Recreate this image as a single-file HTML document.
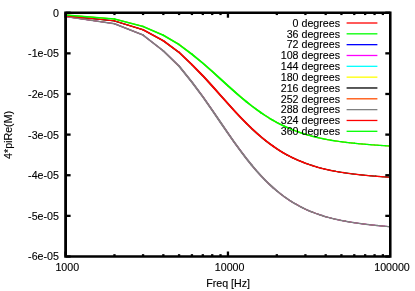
<!DOCTYPE html>
<html><head><meta charset="utf-8"><title>plot</title>
<style>
html,body{margin:0;padding:0;background:#fff;overflow:hidden;}
svg{display:block;}
text{font-family:"Liberation Sans",sans-serif;font-size:10.67px;fill:#000;stroke:#000;stroke-width:0.12px;}
</style></head><body>
<svg style="will-change:transform" width="415" height="291" viewBox="0 0 415 291">
<rect x="0" y="0" width="415" height="291" fill="#fff"/>
<g fill="none" stroke-linejoin="round" stroke-linecap="round">
<path d="M65.60,15.00 L114.47,19.00" stroke="#ff0000" stroke-width="0.95"/><path d="M114.47,19.00 L143.06,26.40" stroke="#ff0000" stroke-width="1.00"/><path d="M143.06,26.40 L163.34,35.30" stroke="#ff0000" stroke-width="1.10"/><path d="M163.34,35.30 L179.08,44.60" stroke="#ff0000" stroke-width="1.15"/><path d="M179.08,44.60 L191.93,54.20 L202.80,63.15 L212.22,71.44" stroke="#ff0000" stroke-width="1.20"/><path d="M212.22,71.44 L220.52,78.98 L227.95,85.73" stroke="#ff0000" stroke-width="1.25"/><path d="M227.95,85.73 L234.67,91.74 L240.81,97.06 L246.45,101.75 L251.67,105.89 L256.54,109.54 L261.09,112.76" stroke="#ff0000" stroke-width="1.20"/><path d="M261.09,112.76 L265.36,115.61 L269.39,118.15 L273.21,120.40 L276.82,122.41" stroke="#ff0000" stroke-width="1.15"/><path d="M276.82,122.41 L280.26,124.21 L283.54,125.83 L286.68,127.28 L289.68,128.60 L292.56,129.78" stroke="#ff0000" stroke-width="1.10"/><path d="M292.56,129.78 L295.32,130.86 L297.98,131.84 L300.55,132.74 L303.02,133.55 L305.41,134.30 L307.72,134.99" stroke="#ff0000" stroke-width="1.05"/><path d="M307.72,134.99 L309.96,135.63 L312.13,136.21 L314.24,136.75 L316.28,137.25 L318.27,137.71 L320.20,138.15 L322.08,138.55 L323.91,138.92 L325.69,139.27 L327.44,139.60" stroke="#ff0000" stroke-width="1.00"/><path d="M327.44,139.60 L329.13,139.90 L330.79,140.19 L332.41,140.46 L334.00,140.71 L335.55,140.95 L337.07,141.18 L338.55,141.39 L340.00,141.59 L341.43,141.78 L342.82,141.96 L344.19,142.13 L345.54,142.30 L346.85,142.45 L348.15,142.60 L349.42,142.75 L350.67,142.89 L351.89,143.02 L353.10,143.14 L354.28,143.27 L355.45,143.38 L356.59,143.50 L357.72,143.60 L358.83,143.71 L359.93,143.81 L361.00,143.91 L362.06,144.00 L363.11,144.09 L364.14,144.18 L365.15,144.27 L366.15,144.35 L367.14,144.43" stroke="#ff0000" stroke-width="0.95"/><path d="M367.14,144.43 L368.11,144.51 L369.07,144.59 L370.02,144.66 L370.95,144.73 L371.87,144.80 L372.78,144.87 L373.68,144.94 L374.57,145.00 L375.44,145.07 L376.31,145.13 L377.16,145.19 L378.01,145.25 L378.84,145.31 L379.67,145.36 L380.48,145.42 L381.29,145.47 L382.08,145.52 L382.87,145.58 L383.65,145.63 L384.42,145.68 L385.18,145.73 L385.94,145.77 L386.68,145.82 L387.42,145.87 L388.15,145.91 L388.88,145.96 L389.59,146.00 L390.30,146.05" stroke="#ff0000" stroke-width="0.90"/>
<path d="M65.60,15.90 L114.47,20.90" stroke="#00ff00" stroke-width="0.95"/><path d="M114.47,20.90 L143.06,29.70" stroke="#00ff00" stroke-width="1.05"/><path d="M143.06,29.70 L163.34,40.80" stroke="#00ff00" stroke-width="1.15"/><path d="M163.34,40.80 L179.08,52.40" stroke="#00ff00" stroke-width="1.20"/><path d="M179.08,52.40 L191.93,64.63 L202.80,75.73 L212.22,86.00 L220.52,95.32 L227.95,103.67 L234.67,111.08 L240.81,117.63 L246.45,123.40 L251.67,128.48 L256.54,132.96" stroke="#00ff00" stroke-width="1.25"/><path d="M256.54,132.96 L261.09,136.92 L265.36,140.42 L269.39,143.52 L273.21,146.28" stroke="#00ff00" stroke-width="1.20"/><path d="M273.21,146.28 L276.82,148.74 L280.26,150.94 L283.54,152.92 L286.68,154.69" stroke="#00ff00" stroke-width="1.15"/><path d="M286.68,154.69 L289.68,156.29 L292.56,157.74 L295.32,159.06 L297.98,160.25 L300.55,161.34" stroke="#00ff00" stroke-width="1.10"/><path d="M300.55,161.34 L303.02,162.34 L305.41,163.25 L307.72,164.09 L309.96,164.86 L312.13,165.57 L314.24,166.23 L316.28,166.84" stroke="#00ff00" stroke-width="1.05"/><path d="M316.28,166.84 L318.27,167.41 L320.20,167.93 L322.08,168.42 L323.91,168.87 L325.69,169.30 L327.44,169.69 L329.13,170.07 L330.79,170.42 L332.41,170.74 L334.00,171.05 L335.55,171.34" stroke="#00ff00" stroke-width="1.00"/><path d="M335.55,171.34 L337.07,171.61 L338.55,171.87 L340.00,172.11 L341.43,172.35 L342.82,172.56 L344.19,172.77 L345.54,172.97 L346.85,173.16 L348.15,173.34 L349.42,173.51 L350.67,173.68 L351.89,173.83 L353.10,173.98 L354.28,174.13 L355.45,174.27 L356.59,174.40 L357.72,174.53 L358.83,174.65 L359.93,174.77 L361.00,174.89 L362.06,175.00 L363.11,175.10 L364.14,175.20 L365.15,175.30 L366.15,175.40 L367.14,175.49 L368.11,175.58 L369.07,175.67 L370.02,175.75 L370.95,175.84 L371.87,175.92 L372.78,175.99 L373.68,176.07 L374.57,176.14 L375.44,176.21" stroke="#00ff00" stroke-width="0.95"/><path d="M375.44,176.21 L376.31,176.28 L377.16,176.35 L378.01,176.41 L378.84,176.48 L379.67,176.54 L380.48,176.60 L381.29,176.66 L382.08,176.72 L382.87,176.78 L383.65,176.83 L384.42,176.89 L385.18,176.94 L385.94,176.99 L386.68,177.04 L387.42,177.09 L388.15,177.14 L388.88,177.19 L389.59,177.24 L390.30,177.28" stroke="#00ff00" stroke-width="0.90"/>
<path d="M65.60,16.60 L114.47,23.70" stroke="#0000ff" stroke-width="0.95"/><path d="M114.47,23.70 L143.06,35.10" stroke="#0000ff" stroke-width="1.05"/><path d="M143.06,35.10 L163.34,50.90" stroke="#0000ff" stroke-width="1.20"/><path d="M163.34,50.90 L179.08,66.20" stroke="#0000ff" stroke-width="1.25"/><path d="M179.08,66.20 L191.93,82.06 L202.80,96.71 L212.22,110.19 L220.52,122.35 L227.95,133.19 L234.67,142.78 L240.81,151.21 L246.45,158.62 L251.67,165.13" stroke="#0000ff" stroke-width="1.30"/><path d="M251.67,165.13 L256.54,170.85 L261.09,175.89 L265.36,180.33 L269.39,184.27 L273.21,187.76" stroke="#0000ff" stroke-width="1.25"/><path d="M273.21,187.76 L276.82,190.88 L280.26,193.65 L283.54,196.14 L286.68,198.38" stroke="#0000ff" stroke-width="1.20"/><path d="M286.68,198.38 L289.68,200.40 L292.56,202.22 L295.32,203.87 L297.98,205.37" stroke="#0000ff" stroke-width="1.15"/><path d="M297.98,205.37 L300.55,206.74 L303.02,207.99 L305.41,209.13 L307.72,210.18 L309.96,211.15 L312.13,212.04" stroke="#0000ff" stroke-width="1.10"/><path d="M312.13,212.04 L314.24,212.86 L316.28,213.62 L318.27,214.33 L320.20,214.98 L322.08,215.59 L323.91,216.16 L325.69,216.69" stroke="#0000ff" stroke-width="1.05"/><path d="M325.69,216.69 L327.44,217.18 L329.13,217.65 L330.79,218.08 L332.41,218.49 L334.00,218.87 L335.55,219.24 L337.07,219.58 L338.55,219.90 L340.00,220.20 L341.43,220.49 L342.82,220.76 L344.19,221.02 L345.54,221.27" stroke="#0000ff" stroke-width="1.00"/><path d="M345.54,221.27 L346.85,221.50 L348.15,221.73 L349.42,221.94 L350.67,222.15 L351.89,222.35 L353.10,222.54 L354.28,222.72 L355.45,222.89 L356.59,223.06 L357.72,223.22 L358.83,223.38 L359.93,223.53 L361.00,223.67 L362.06,223.81 L363.11,223.94 L364.14,224.07 L365.15,224.20 L366.15,224.32 L367.14,224.44 L368.11,224.55 L369.07,224.66 L370.02,224.77 L370.95,224.88 L371.87,224.98 L372.78,225.08 L373.68,225.17 L374.57,225.27 L375.44,225.36 L376.31,225.45 L377.16,225.53 L378.01,225.62 L378.84,225.70 L379.67,225.78 L380.48,225.86 L381.29,225.94 L382.08,226.01 L382.87,226.09 L383.65,226.16 L384.42,226.23 L385.18,226.30 L385.94,226.37 L386.68,226.43 L387.42,226.50 L388.15,226.56 L388.88,226.62 L389.59,226.69 L390.30,226.75" stroke="#0000ff" stroke-width="0.95"/>
<path d="M65.60,16.60 L114.47,23.70" stroke="#ff00ff" stroke-width="0.95"/><path d="M114.47,23.70 L143.06,35.10" stroke="#ff00ff" stroke-width="1.05"/><path d="M143.06,35.10 L163.34,50.90" stroke="#ff00ff" stroke-width="1.20"/><path d="M163.34,50.90 L179.08,66.20" stroke="#ff00ff" stroke-width="1.25"/><path d="M179.08,66.20 L191.93,82.06 L202.80,96.71 L212.22,110.19 L220.52,122.35 L227.95,133.19 L234.67,142.78 L240.81,151.21 L246.45,158.62 L251.67,165.13" stroke="#ff00ff" stroke-width="1.30"/><path d="M251.67,165.13 L256.54,170.85 L261.09,175.89 L265.36,180.33 L269.39,184.27 L273.21,187.76" stroke="#ff00ff" stroke-width="1.25"/><path d="M273.21,187.76 L276.82,190.88 L280.26,193.65 L283.54,196.14 L286.68,198.38" stroke="#ff00ff" stroke-width="1.20"/><path d="M286.68,198.38 L289.68,200.40 L292.56,202.22 L295.32,203.87 L297.98,205.37" stroke="#ff00ff" stroke-width="1.15"/><path d="M297.98,205.37 L300.55,206.74 L303.02,207.99 L305.41,209.13 L307.72,210.18 L309.96,211.15 L312.13,212.04" stroke="#ff00ff" stroke-width="1.10"/><path d="M312.13,212.04 L314.24,212.86 L316.28,213.62 L318.27,214.33 L320.20,214.98 L322.08,215.59 L323.91,216.16 L325.69,216.69" stroke="#ff00ff" stroke-width="1.05"/><path d="M325.69,216.69 L327.44,217.18 L329.13,217.65 L330.79,218.08 L332.41,218.49 L334.00,218.87 L335.55,219.24 L337.07,219.58 L338.55,219.90 L340.00,220.20 L341.43,220.49 L342.82,220.76 L344.19,221.02 L345.54,221.27" stroke="#ff00ff" stroke-width="1.00"/><path d="M345.54,221.27 L346.85,221.50 L348.15,221.73 L349.42,221.94 L350.67,222.15 L351.89,222.35 L353.10,222.54 L354.28,222.72 L355.45,222.89 L356.59,223.06 L357.72,223.22 L358.83,223.38 L359.93,223.53 L361.00,223.67 L362.06,223.81 L363.11,223.94 L364.14,224.07 L365.15,224.20 L366.15,224.32 L367.14,224.44 L368.11,224.55 L369.07,224.66 L370.02,224.77 L370.95,224.88 L371.87,224.98 L372.78,225.08 L373.68,225.17 L374.57,225.27 L375.44,225.36 L376.31,225.45 L377.16,225.53 L378.01,225.62 L378.84,225.70 L379.67,225.78 L380.48,225.86 L381.29,225.94 L382.08,226.01 L382.87,226.09 L383.65,226.16 L384.42,226.23 L385.18,226.30 L385.94,226.37 L386.68,226.43 L387.42,226.50 L388.15,226.56 L388.88,226.62 L389.59,226.69 L390.30,226.75" stroke="#ff00ff" stroke-width="0.95"/>
<path d="M65.60,15.90 L114.47,20.90" stroke="#00ffff" stroke-width="0.95"/><path d="M114.47,20.90 L143.06,29.70" stroke="#00ffff" stroke-width="1.05"/><path d="M143.06,29.70 L163.34,40.80" stroke="#00ffff" stroke-width="1.15"/><path d="M163.34,40.80 L179.08,52.40" stroke="#00ffff" stroke-width="1.20"/><path d="M179.08,52.40 L191.93,64.63 L202.80,75.73 L212.22,86.00 L220.52,95.32 L227.95,103.67 L234.67,111.08 L240.81,117.63 L246.45,123.40 L251.67,128.48 L256.54,132.96" stroke="#00ffff" stroke-width="1.25"/><path d="M256.54,132.96 L261.09,136.92 L265.36,140.42 L269.39,143.52 L273.21,146.28" stroke="#00ffff" stroke-width="1.20"/><path d="M273.21,146.28 L276.82,148.74 L280.26,150.94 L283.54,152.92 L286.68,154.69" stroke="#00ffff" stroke-width="1.15"/><path d="M286.68,154.69 L289.68,156.29 L292.56,157.74 L295.32,159.06 L297.98,160.25 L300.55,161.34" stroke="#00ffff" stroke-width="1.10"/><path d="M300.55,161.34 L303.02,162.34 L305.41,163.25 L307.72,164.09 L309.96,164.86 L312.13,165.57 L314.24,166.23 L316.28,166.84" stroke="#00ffff" stroke-width="1.05"/><path d="M316.28,166.84 L318.27,167.41 L320.20,167.93 L322.08,168.42 L323.91,168.87 L325.69,169.30 L327.44,169.69 L329.13,170.07 L330.79,170.42 L332.41,170.74 L334.00,171.05 L335.55,171.34" stroke="#00ffff" stroke-width="1.00"/><path d="M335.55,171.34 L337.07,171.61 L338.55,171.87 L340.00,172.11 L341.43,172.35 L342.82,172.56 L344.19,172.77 L345.54,172.97 L346.85,173.16 L348.15,173.34 L349.42,173.51 L350.67,173.68 L351.89,173.83 L353.10,173.98 L354.28,174.13 L355.45,174.27 L356.59,174.40 L357.72,174.53 L358.83,174.65 L359.93,174.77 L361.00,174.89 L362.06,175.00 L363.11,175.10 L364.14,175.20 L365.15,175.30 L366.15,175.40 L367.14,175.49 L368.11,175.58 L369.07,175.67 L370.02,175.75 L370.95,175.84 L371.87,175.92 L372.78,175.99 L373.68,176.07 L374.57,176.14 L375.44,176.21" stroke="#00ffff" stroke-width="0.95"/><path d="M375.44,176.21 L376.31,176.28 L377.16,176.35 L378.01,176.41 L378.84,176.48 L379.67,176.54 L380.48,176.60 L381.29,176.66 L382.08,176.72 L382.87,176.78 L383.65,176.83 L384.42,176.89 L385.18,176.94 L385.94,176.99 L386.68,177.04 L387.42,177.09 L388.15,177.14 L388.88,177.19 L389.59,177.24 L390.30,177.28" stroke="#00ffff" stroke-width="0.90"/>
<path d="M65.60,15.00 L114.47,19.00" stroke="#ffff00" stroke-width="0.95"/><path d="M114.47,19.00 L143.06,26.40" stroke="#ffff00" stroke-width="1.00"/><path d="M143.06,26.40 L163.34,35.30" stroke="#ffff00" stroke-width="1.10"/><path d="M163.34,35.30 L179.08,44.60" stroke="#ffff00" stroke-width="1.15"/><path d="M179.08,44.60 L191.93,54.20 L202.80,63.15 L212.22,71.44" stroke="#ffff00" stroke-width="1.20"/><path d="M212.22,71.44 L220.52,78.98 L227.95,85.73" stroke="#ffff00" stroke-width="1.25"/><path d="M227.95,85.73 L234.67,91.74 L240.81,97.06 L246.45,101.75 L251.67,105.89 L256.54,109.54 L261.09,112.76" stroke="#ffff00" stroke-width="1.20"/><path d="M261.09,112.76 L265.36,115.61 L269.39,118.15 L273.21,120.40 L276.82,122.41" stroke="#ffff00" stroke-width="1.15"/><path d="M276.82,122.41 L280.26,124.21 L283.54,125.83 L286.68,127.28 L289.68,128.60 L292.56,129.78" stroke="#ffff00" stroke-width="1.10"/><path d="M292.56,129.78 L295.32,130.86 L297.98,131.84 L300.55,132.74 L303.02,133.55 L305.41,134.30 L307.72,134.99" stroke="#ffff00" stroke-width="1.05"/><path d="M307.72,134.99 L309.96,135.63 L312.13,136.21 L314.24,136.75 L316.28,137.25 L318.27,137.71 L320.20,138.15 L322.08,138.55 L323.91,138.92 L325.69,139.27 L327.44,139.60" stroke="#ffff00" stroke-width="1.00"/><path d="M327.44,139.60 L329.13,139.90 L330.79,140.19 L332.41,140.46 L334.00,140.71 L335.55,140.95 L337.07,141.18 L338.55,141.39 L340.00,141.59 L341.43,141.78 L342.82,141.96 L344.19,142.13 L345.54,142.30 L346.85,142.45 L348.15,142.60 L349.42,142.75 L350.67,142.89 L351.89,143.02 L353.10,143.14 L354.28,143.27 L355.45,143.38 L356.59,143.50 L357.72,143.60 L358.83,143.71 L359.93,143.81 L361.00,143.91 L362.06,144.00 L363.11,144.09 L364.14,144.18 L365.15,144.27 L366.15,144.35 L367.14,144.43" stroke="#ffff00" stroke-width="0.95"/><path d="M367.14,144.43 L368.11,144.51 L369.07,144.59 L370.02,144.66 L370.95,144.73 L371.87,144.80 L372.78,144.87 L373.68,144.94 L374.57,145.00 L375.44,145.07 L376.31,145.13 L377.16,145.19 L378.01,145.25 L378.84,145.31 L379.67,145.36 L380.48,145.42 L381.29,145.47 L382.08,145.52 L382.87,145.58 L383.65,145.63 L384.42,145.68 L385.18,145.73 L385.94,145.77 L386.68,145.82 L387.42,145.87 L388.15,145.91 L388.88,145.96 L389.59,146.00 L390.30,146.05" stroke="#ffff00" stroke-width="0.90"/>
<path d="M65.60,15.90 L114.47,20.90" stroke="#000000" stroke-width="0.95"/><path d="M114.47,20.90 L143.06,29.70" stroke="#000000" stroke-width="1.05"/><path d="M143.06,29.70 L163.34,40.80" stroke="#000000" stroke-width="1.15"/><path d="M163.34,40.80 L179.08,52.40" stroke="#000000" stroke-width="1.20"/><path d="M179.08,52.40 L191.93,64.63 L202.80,75.73 L212.22,86.00 L220.52,95.32 L227.95,103.67 L234.67,111.08 L240.81,117.63 L246.45,123.40 L251.67,128.48 L256.54,132.96" stroke="#000000" stroke-width="1.25"/><path d="M256.54,132.96 L261.09,136.92 L265.36,140.42 L269.39,143.52 L273.21,146.28" stroke="#000000" stroke-width="1.20"/><path d="M273.21,146.28 L276.82,148.74 L280.26,150.94 L283.54,152.92 L286.68,154.69" stroke="#000000" stroke-width="1.15"/><path d="M286.68,154.69 L289.68,156.29 L292.56,157.74 L295.32,159.06 L297.98,160.25 L300.55,161.34" stroke="#000000" stroke-width="1.10"/><path d="M300.55,161.34 L303.02,162.34 L305.41,163.25 L307.72,164.09 L309.96,164.86 L312.13,165.57 L314.24,166.23 L316.28,166.84" stroke="#000000" stroke-width="1.05"/><path d="M316.28,166.84 L318.27,167.41 L320.20,167.93 L322.08,168.42 L323.91,168.87 L325.69,169.30 L327.44,169.69 L329.13,170.07 L330.79,170.42 L332.41,170.74 L334.00,171.05 L335.55,171.34" stroke="#000000" stroke-width="1.00"/><path d="M335.55,171.34 L337.07,171.61 L338.55,171.87 L340.00,172.11 L341.43,172.35 L342.82,172.56 L344.19,172.77 L345.54,172.97 L346.85,173.16 L348.15,173.34 L349.42,173.51 L350.67,173.68 L351.89,173.83 L353.10,173.98 L354.28,174.13 L355.45,174.27 L356.59,174.40 L357.72,174.53 L358.83,174.65 L359.93,174.77 L361.00,174.89 L362.06,175.00 L363.11,175.10 L364.14,175.20 L365.15,175.30 L366.15,175.40 L367.14,175.49 L368.11,175.58 L369.07,175.67 L370.02,175.75 L370.95,175.84 L371.87,175.92 L372.78,175.99 L373.68,176.07 L374.57,176.14 L375.44,176.21" stroke="#000000" stroke-width="0.95"/><path d="M375.44,176.21 L376.31,176.28 L377.16,176.35 L378.01,176.41 L378.84,176.48 L379.67,176.54 L380.48,176.60 L381.29,176.66 L382.08,176.72 L382.87,176.78 L383.65,176.83 L384.42,176.89 L385.18,176.94 L385.94,176.99 L386.68,177.04 L387.42,177.09 L388.15,177.14 L388.88,177.19 L389.59,177.24 L390.30,177.28" stroke="#000000" stroke-width="0.90"/>
<path d="M65.60,16.60 L114.47,23.70" stroke="#ff4d00" stroke-width="0.95"/><path d="M114.47,23.70 L143.06,35.10" stroke="#ff4d00" stroke-width="1.05"/><path d="M143.06,35.10 L163.34,50.90" stroke="#ff4d00" stroke-width="1.20"/><path d="M163.34,50.90 L179.08,66.20" stroke="#ff4d00" stroke-width="1.25"/><path d="M179.08,66.20 L191.93,82.06 L202.80,96.71 L212.22,110.19 L220.52,122.35 L227.95,133.19 L234.67,142.78 L240.81,151.21 L246.45,158.62 L251.67,165.13" stroke="#ff4d00" stroke-width="1.30"/><path d="M251.67,165.13 L256.54,170.85 L261.09,175.89 L265.36,180.33 L269.39,184.27 L273.21,187.76" stroke="#ff4d00" stroke-width="1.25"/><path d="M273.21,187.76 L276.82,190.88 L280.26,193.65 L283.54,196.14 L286.68,198.38" stroke="#ff4d00" stroke-width="1.20"/><path d="M286.68,198.38 L289.68,200.40 L292.56,202.22 L295.32,203.87 L297.98,205.37" stroke="#ff4d00" stroke-width="1.15"/><path d="M297.98,205.37 L300.55,206.74 L303.02,207.99 L305.41,209.13 L307.72,210.18 L309.96,211.15 L312.13,212.04" stroke="#ff4d00" stroke-width="1.10"/><path d="M312.13,212.04 L314.24,212.86 L316.28,213.62 L318.27,214.33 L320.20,214.98 L322.08,215.59 L323.91,216.16 L325.69,216.69" stroke="#ff4d00" stroke-width="1.05"/><path d="M325.69,216.69 L327.44,217.18 L329.13,217.65 L330.79,218.08 L332.41,218.49 L334.00,218.87 L335.55,219.24 L337.07,219.58 L338.55,219.90 L340.00,220.20 L341.43,220.49 L342.82,220.76 L344.19,221.02 L345.54,221.27" stroke="#ff4d00" stroke-width="1.00"/><path d="M345.54,221.27 L346.85,221.50 L348.15,221.73 L349.42,221.94 L350.67,222.15 L351.89,222.35 L353.10,222.54 L354.28,222.72 L355.45,222.89 L356.59,223.06 L357.72,223.22 L358.83,223.38 L359.93,223.53 L361.00,223.67 L362.06,223.81 L363.11,223.94 L364.14,224.07 L365.15,224.20 L366.15,224.32 L367.14,224.44 L368.11,224.55 L369.07,224.66 L370.02,224.77 L370.95,224.88 L371.87,224.98 L372.78,225.08 L373.68,225.17 L374.57,225.27 L375.44,225.36 L376.31,225.45 L377.16,225.53 L378.01,225.62 L378.84,225.70 L379.67,225.78 L380.48,225.86 L381.29,225.94 L382.08,226.01 L382.87,226.09 L383.65,226.16 L384.42,226.23 L385.18,226.30 L385.94,226.37 L386.68,226.43 L387.42,226.50 L388.15,226.56 L388.88,226.62 L389.59,226.69 L390.30,226.75" stroke="#ff4d00" stroke-width="0.95"/>
<path d="M65.60,16.60 L114.47,23.70" stroke="#808080" stroke-width="1.40"/><path d="M114.47,23.70 L143.06,35.10" stroke="#808080" stroke-width="1.60"/><path d="M143.06,35.10 L163.34,50.90" stroke="#808080" stroke-width="1.75"/><path d="M163.34,50.90 L179.08,66.20" stroke="#808080" stroke-width="1.80"/><path d="M179.08,66.20 L191.93,82.06 L202.80,96.71 L212.22,110.19 L220.52,122.35 L227.95,133.19 L234.67,142.78 L240.81,151.21 L246.45,158.62 L251.67,165.13" stroke="#808080" stroke-width="1.90"/><path d="M251.67,165.13 L256.54,170.85 L261.09,175.89 L265.36,180.33" stroke="#808080" stroke-width="1.85"/><path d="M265.36,180.33 L269.39,184.27 L273.21,187.76 L276.82,190.88" stroke="#808080" stroke-width="1.80"/><path d="M276.82,190.88 L280.26,193.65 L283.54,196.14 L286.68,198.38" stroke="#808080" stroke-width="1.75"/><path d="M286.68,198.38 L289.68,200.40 L292.56,202.22 L295.32,203.87" stroke="#808080" stroke-width="1.70"/><path d="M295.32,203.87 L297.98,205.37 L300.55,206.74 L303.02,207.99" stroke="#808080" stroke-width="1.65"/><path d="M303.02,207.99 L305.41,209.13 L307.72,210.18 L309.96,211.15 L312.13,212.04" stroke="#808080" stroke-width="1.60"/><path d="M312.13,212.04 L314.24,212.86 L316.28,213.62 L318.27,214.33 L320.20,214.98 L322.08,215.59" stroke="#808080" stroke-width="1.55"/><path d="M322.08,215.59 L323.91,216.16 L325.69,216.69 L327.44,217.18 L329.13,217.65 L330.79,218.08 L332.41,218.49 L334.00,218.87" stroke="#808080" stroke-width="1.50"/><path d="M334.00,218.87 L335.55,219.24 L337.07,219.58 L338.55,219.90 L340.00,220.20 L341.43,220.49 L342.82,220.76 L344.19,221.02 L345.54,221.27 L346.85,221.50 L348.15,221.73 L349.42,221.94" stroke="#808080" stroke-width="1.45"/><path d="M349.42,221.94 L350.67,222.15 L351.89,222.35 L353.10,222.54 L354.28,222.72 L355.45,222.89 L356.59,223.06 L357.72,223.22 L358.83,223.38 L359.93,223.53 L361.00,223.67 L362.06,223.81 L363.11,223.94 L364.14,224.07 L365.15,224.20 L366.15,224.32 L367.14,224.44 L368.11,224.55 L369.07,224.66 L370.02,224.77 L370.95,224.88 L371.87,224.98 L372.78,225.08 L373.68,225.17 L374.57,225.27 L375.44,225.36 L376.31,225.45 L377.16,225.53" stroke="#808080" stroke-width="1.40"/><path d="M377.16,225.53 L378.01,225.62 L378.84,225.70 L379.67,225.78 L380.48,225.86 L381.29,225.94 L382.08,226.01 L382.87,226.09 L383.65,226.16 L384.42,226.23 L385.18,226.30 L385.94,226.37 L386.68,226.43 L387.42,226.50 L388.15,226.56 L388.88,226.62 L389.59,226.69 L390.30,226.75" stroke="#808080" stroke-width="1.35"/>
<path d="M65.60,15.90 L114.47,20.90" stroke="#ff0000" stroke-width="1.40"/><path d="M114.47,20.90 L143.06,29.70" stroke="#ff0000" stroke-width="1.50"/><path d="M143.06,29.70 L163.34,40.80" stroke="#ff0000" stroke-width="1.65"/><path d="M163.34,40.80 L179.08,52.40" stroke="#ff0000" stroke-width="1.75"/><path d="M179.08,52.40 L191.93,64.63" stroke="#ff0000" stroke-width="1.80"/><path d="M191.93,64.63 L202.80,75.73 L212.22,86.00 L220.52,95.32 L227.95,103.67 L234.67,111.08 L240.81,117.63 L246.45,123.40" stroke="#ff0000" stroke-width="1.85"/><path d="M246.45,123.40 L251.67,128.48 L256.54,132.96 L261.09,136.92 L265.36,140.42" stroke="#ff0000" stroke-width="1.80"/><path d="M265.36,140.42 L269.39,143.52 L273.21,146.28" stroke="#ff0000" stroke-width="1.75"/><path d="M273.21,146.28 L276.82,148.74 L280.26,150.94 L283.54,152.92" stroke="#ff0000" stroke-width="1.70"/><path d="M283.54,152.92 L286.68,154.69 L289.68,156.29 L292.56,157.74" stroke="#ff0000" stroke-width="1.65"/><path d="M292.56,157.74 L295.32,159.06 L297.98,160.25 L300.55,161.34 L303.02,162.34" stroke="#ff0000" stroke-width="1.60"/><path d="M303.02,162.34 L305.41,163.25 L307.72,164.09 L309.96,164.86 L312.13,165.57" stroke="#ff0000" stroke-width="1.55"/><path d="M312.13,165.57 L314.24,166.23 L316.28,166.84 L318.27,167.41 L320.20,167.93 L322.08,168.42 L323.91,168.87" stroke="#ff0000" stroke-width="1.50"/><path d="M323.91,168.87 L325.69,169.30 L327.44,169.69 L329.13,170.07 L330.79,170.42 L332.41,170.74 L334.00,171.05 L335.55,171.34 L337.07,171.61 L338.55,171.87" stroke="#ff0000" stroke-width="1.45"/><path d="M338.55,171.87 L340.00,172.11 L341.43,172.35 L342.82,172.56 L344.19,172.77 L345.54,172.97 L346.85,173.16 L348.15,173.34 L349.42,173.51 L350.67,173.68 L351.89,173.83 L353.10,173.98 L354.28,174.13 L355.45,174.27 L356.59,174.40 L357.72,174.53 L358.83,174.65 L359.93,174.77 L361.00,174.89 L362.06,175.00 L363.11,175.10" stroke="#ff0000" stroke-width="1.40"/><path d="M363.11,175.10 L364.14,175.20 L365.15,175.30 L366.15,175.40 L367.14,175.49 L368.11,175.58 L369.07,175.67 L370.02,175.75 L370.95,175.84 L371.87,175.92 L372.78,175.99 L373.68,176.07 L374.57,176.14 L375.44,176.21 L376.31,176.28 L377.16,176.35 L378.01,176.41 L378.84,176.48 L379.67,176.54 L380.48,176.60 L381.29,176.66 L382.08,176.72 L382.87,176.78 L383.65,176.83 L384.42,176.89 L385.18,176.94 L385.94,176.99 L386.68,177.04 L387.42,177.09 L388.15,177.14 L388.88,177.19 L389.59,177.24 L390.30,177.28" stroke="#ff0000" stroke-width="1.35"/>
<path d="M65.60,15.00 L114.47,19.00" stroke="#00ff00" stroke-width="1.35"/><path d="M114.47,19.00 L143.06,26.40" stroke="#00ff00" stroke-width="1.50"/><path d="M143.06,26.40 L163.34,35.30" stroke="#00ff00" stroke-width="1.60"/><path d="M163.34,35.30 L179.08,44.60" stroke="#00ff00" stroke-width="1.70"/><path d="M179.08,44.60 L191.93,54.20" stroke="#00ff00" stroke-width="1.75"/><path d="M191.93,54.20 L202.80,63.15 L212.22,71.44 L220.52,78.98 L227.95,85.73 L234.67,91.74 L240.81,97.06 L246.45,101.75" stroke="#00ff00" stroke-width="1.80"/><path d="M246.45,101.75 L251.67,105.89 L256.54,109.54 L261.09,112.76" stroke="#00ff00" stroke-width="1.75"/><path d="M261.09,112.76 L265.36,115.61 L269.39,118.15 L273.21,120.40" stroke="#00ff00" stroke-width="1.70"/><path d="M273.21,120.40 L276.82,122.41 L280.26,124.21 L283.54,125.83" stroke="#00ff00" stroke-width="1.65"/><path d="M283.54,125.83 L286.68,127.28 L289.68,128.60 L292.56,129.78" stroke="#00ff00" stroke-width="1.60"/><path d="M292.56,129.78 L295.32,130.86 L297.98,131.84 L300.55,132.74 L303.02,133.55" stroke="#00ff00" stroke-width="1.55"/><path d="M303.02,133.55 L305.41,134.30 L307.72,134.99 L309.96,135.63 L312.13,136.21 L314.24,136.75 L316.28,137.25" stroke="#00ff00" stroke-width="1.50"/><path d="M316.28,137.25 L318.27,137.71 L320.20,138.15 L322.08,138.55 L323.91,138.92 L325.69,139.27 L327.44,139.60 L329.13,139.90 L330.79,140.19" stroke="#00ff00" stroke-width="1.45"/><path d="M330.79,140.19 L332.41,140.46 L334.00,140.71 L335.55,140.95 L337.07,141.18 L338.55,141.39 L340.00,141.59 L341.43,141.78 L342.82,141.96 L344.19,142.13 L345.54,142.30 L346.85,142.45 L348.15,142.60 L349.42,142.75 L350.67,142.89 L351.89,143.02 L353.10,143.14 L354.28,143.27" stroke="#00ff00" stroke-width="1.40"/><path d="M354.28,143.27 L355.45,143.38 L356.59,143.50 L357.72,143.60 L358.83,143.71 L359.93,143.81 L361.00,143.91 L362.06,144.00 L363.11,144.09 L364.14,144.18 L365.15,144.27 L366.15,144.35 L367.14,144.43 L368.11,144.51 L369.07,144.59 L370.02,144.66 L370.95,144.73 L371.87,144.80 L372.78,144.87 L373.68,144.94 L374.57,145.00 L375.44,145.07 L376.31,145.13 L377.16,145.19 L378.01,145.25 L378.84,145.31 L379.67,145.36 L380.48,145.42 L381.29,145.47 L382.08,145.52 L382.87,145.58 L383.65,145.63 L384.42,145.68 L385.18,145.73 L385.94,145.77 L386.68,145.82 L387.42,145.87 L388.15,145.91 L388.88,145.96 L389.59,146.00 L390.30,146.05" stroke="#00ff00" stroke-width="1.35"/>
</g>
<g stroke-width="1.3">
<line x1="346.6" y1="23.00" x2="377.4" y2="23.00" stroke="#ff0000"/>
<line x1="346.6" y1="33.83" x2="377.4" y2="33.83" stroke="#00ff00"/>
<line x1="346.6" y1="44.66" x2="377.4" y2="44.66" stroke="#0000ff"/>
<line x1="346.6" y1="55.49" x2="377.4" y2="55.49" stroke="#ff00ff"/>
<line x1="346.6" y1="66.32" x2="377.4" y2="66.32" stroke="#00ffff"/>
<line x1="346.6" y1="77.15" x2="377.4" y2="77.15" stroke="#ffff00"/>
<line x1="346.6" y1="87.98" x2="377.4" y2="87.98" stroke="#000000"/>
<line x1="346.6" y1="98.81" x2="377.4" y2="98.81" stroke="#ff4d00"/>
<line x1="346.6" y1="109.64" x2="377.4" y2="109.64" stroke="#808080"/>
<line x1="346.6" y1="120.47" x2="377.4" y2="120.47" stroke="#ff0000"/>
<line x1="346.6" y1="131.30" x2="377.4" y2="131.30" stroke="#00ff00"/>
</g>
<g text-anchor="end">
<text x="340.0" y="26.80">0 degrees</text>
<text x="340.0" y="37.63">36 degrees</text>
<text x="340.0" y="48.46">72 degrees</text>
<text x="340.0" y="59.29">108 degrees</text>
<text x="340.0" y="70.12">144 degrees</text>
<text x="340.0" y="80.95">180 degrees</text>
<text x="340.0" y="91.78">216 degrees</text>
<text x="340.0" y="102.61">252 degrees</text>
<text x="340.0" y="113.44">288 degrees</text>
<text x="340.0" y="124.27">324 degrees</text>
<text x="340.0" y="135.10">360 degrees</text>
</g>
<g stroke="#000" stroke-width="2.3" fill="none">
<line x1="65.6" y1="12.72" x2="70.6" y2="12.72"/>
<line x1="390.3" y1="12.72" x2="385.3" y2="12.72"/>
<line x1="65.6" y1="53.35" x2="70.6" y2="53.35"/>
<line x1="390.3" y1="53.35" x2="385.3" y2="53.35"/>
<line x1="65.6" y1="93.98" x2="70.6" y2="93.98"/>
<line x1="390.3" y1="93.98" x2="385.3" y2="93.98"/>
<line x1="65.6" y1="134.61" x2="70.6" y2="134.61"/>
<line x1="390.3" y1="134.61" x2="385.3" y2="134.61"/>
<line x1="65.6" y1="175.24" x2="70.6" y2="175.24"/>
<line x1="390.3" y1="175.24" x2="385.3" y2="175.24"/>
<line x1="65.6" y1="215.87" x2="70.6" y2="215.87"/>
<line x1="390.3" y1="215.87" x2="385.3" y2="215.87"/>
<line x1="65.6" y1="256.50" x2="70.6" y2="256.50"/>
<line x1="390.3" y1="256.50" x2="385.3" y2="256.50"/>
<line x1="65.60" y1="256.5" x2="65.60" y2="251.5"/>
<line x1="65.60" y1="12.72" x2="65.60" y2="17.72"/>
<line x1="114.47" y1="256.5" x2="114.47" y2="254.15"/>
<line x1="114.47" y1="12.72" x2="114.47" y2="15.07"/>
<line x1="143.06" y1="256.5" x2="143.06" y2="254.15"/>
<line x1="143.06" y1="12.72" x2="143.06" y2="15.07"/>
<line x1="163.34" y1="256.5" x2="163.34" y2="254.15"/>
<line x1="163.34" y1="12.72" x2="163.34" y2="15.07"/>
<line x1="179.08" y1="256.5" x2="179.08" y2="254.15"/>
<line x1="179.08" y1="12.72" x2="179.08" y2="15.07"/>
<line x1="191.93" y1="256.5" x2="191.93" y2="254.15"/>
<line x1="191.93" y1="12.72" x2="191.93" y2="15.07"/>
<line x1="202.80" y1="256.5" x2="202.80" y2="254.15"/>
<line x1="202.80" y1="12.72" x2="202.80" y2="15.07"/>
<line x1="212.22" y1="256.5" x2="212.22" y2="254.15"/>
<line x1="212.22" y1="12.72" x2="212.22" y2="15.07"/>
<line x1="220.52" y1="256.5" x2="220.52" y2="254.15"/>
<line x1="220.52" y1="12.72" x2="220.52" y2="15.07"/>
<line x1="227.95" y1="256.5" x2="227.95" y2="251.5"/>
<line x1="227.95" y1="12.72" x2="227.95" y2="17.72"/>
<line x1="276.82" y1="256.5" x2="276.82" y2="254.15"/>
<line x1="276.82" y1="12.72" x2="276.82" y2="15.07"/>
<line x1="305.41" y1="256.5" x2="305.41" y2="254.15"/>
<line x1="305.41" y1="12.72" x2="305.41" y2="15.07"/>
<line x1="325.69" y1="256.5" x2="325.69" y2="254.15"/>
<line x1="325.69" y1="12.72" x2="325.69" y2="15.07"/>
<line x1="341.43" y1="256.5" x2="341.43" y2="254.15"/>
<line x1="341.43" y1="12.72" x2="341.43" y2="15.07"/>
<line x1="354.28" y1="256.5" x2="354.28" y2="254.15"/>
<line x1="354.28" y1="12.72" x2="354.28" y2="15.07"/>
<line x1="365.15" y1="256.5" x2="365.15" y2="254.15"/>
<line x1="365.15" y1="12.72" x2="365.15" y2="15.07"/>
<line x1="374.57" y1="256.5" x2="374.57" y2="254.15"/>
<line x1="374.57" y1="12.72" x2="374.57" y2="15.07"/>
<line x1="382.87" y1="256.5" x2="382.87" y2="254.15"/>
<line x1="382.87" y1="12.72" x2="382.87" y2="15.07"/>
</g>
<path fill="#000" fill-rule="evenodd" d="M64.2,11.5 H391.55 V257.85 H64.2 Z M67.0,14.05 H389.0 V255.15 H67.0 Z"/>
<g text-anchor="end">
<text x="58.9" y="16.67">0</text>
<text x="58.9" y="57.30">-1e-05</text>
<text x="58.9" y="97.93">-2e-05</text>
<text x="58.9" y="138.56">-3e-05</text>
<text x="58.9" y="179.19">-4e-05</text>
<text x="58.9" y="219.82">-5e-05</text>
<text x="58.9" y="260.45">-6e-05</text>
</g>
<g text-anchor="middle">
<text x="67.30" y="270.85">1000</text>
<text x="229.65" y="270.85">10000</text>
<text x="392.00" y="270.85">100000</text>
<text x="228.15" y="286.9">Freq [Hz]</text>
<text transform="translate(11.7,134.91) rotate(-90)">4*piRe(M)</text>
</g>
</svg></body></html>
